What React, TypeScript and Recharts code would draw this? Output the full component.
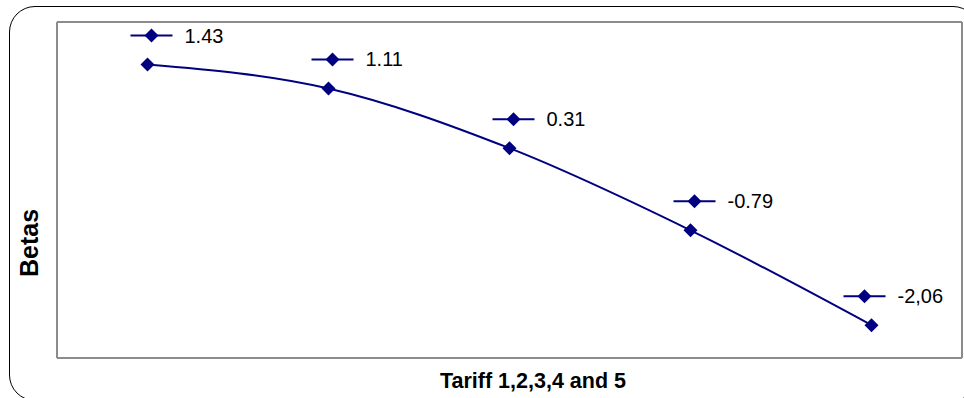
import { LineChart, XAxis, YAxis, Line } from "recharts";

const tariffs = ["Tariff 1", "Tariff 2", "Tariff 3", "Tariff 4", "Tariff 5"];
const betas = [1.43, 1.11, 0.31, -0.79, -2.06];
const betaLabels = ["1.43", "1.11", "0.31", "-0.79", "-2,06"];

const data = tariffs.map((name, i) => ({ name, beta: betas[i] }));

const NAVY = "#000080";
const FRAME = { stroke: "#8c8c8c", strokeWidth: 2 };
const FONT = "'Liberation Sans', Arial, Helvetica, sans-serif";

const diamond = (cx: number, cy: number, r: number) =>
  `M${cx},${cy - r}L${cx + r},${cy}L${cx},${cy + r}L${cx - r},${cy}Z`;

const renderDot = (props: any) => {
  const { cx, cy, index } = props;
  return <path key={`dot-${index}`} d={diamond(cx, cy, 7)} fill={NAVY} />;
};

// excel-style data label: legend key (line + diamond) followed by the value
const renderLabel = (props: any) => {
  const { x, y, index } = props;
  const text = betaLabels[index];
  const textW = text.length * 9.7;
  let kx = x + 4;
  const maxRight = 946;
  if (kx + 33 + textW > maxRight) kx = maxRight - 33 - textW;
  const ky = y - 29;
  return (
    <g key={`lbl-${index}`}>
      <line x1={kx - 21} y1={ky} x2={kx + 21} y2={ky} stroke={NAVY} strokeWidth={2} />
      <path d={diamond(kx, ky, 7)} fill={NAVY} />
      <text
        x={kx + 33}
        y={ky}
        dominantBaseline="central"
        fontSize={20}
        fontFamily={FONT}
        fill="#000"
      >
        {text}
      </text>
    </g>
  );
};

export default function App() {
  return (
    <div
      style={{
        position: "absolute",
        left: 0,
        top: 0,
        width: 964,
        height: 398,
        overflow: "hidden",
        background: "#fff",
      }}
    >
      <div
        style={{
          position: "absolute",
          left: 9,
          top: 6,
          width: 970,
          height: 395,
          border: "1.5px solid #000",
          borderRadius: 26,
          boxSizing: "border-box",
        }}
      />
      <LineChart
        width={964}
        height={398}
        data={data}
        margin={{ top: 21, right: 1, bottom: 39, left: 56 }}
      >
        <XAxis dataKey="name" scale="band" tick={false} tickLine={false} axisLine={FRAME} height={1} />
        <XAxis
          xAxisId="top"
          orientation="top"
          dataKey="name"
          scale="band"
          tick={false}
          tickLine={false}
          axisLine={FRAME}
          height={1}
        />
        <YAxis domain={[-2.5, 2]} tick={false} tickLine={false} axisLine={FRAME} width={1} />
        <YAxis
          yAxisId="right"
          orientation="right"
          domain={[-2.5, 2]}
          tick={false}
          tickLine={false}
          axisLine={FRAME}
          width={1}
        />
        <Line
          type="monotone"
          dataKey="beta"
          stroke={NAVY}
          strokeWidth={2}
          dot={renderDot}
          activeDot={false}
          label={renderLabel}
          isAnimationActive={false}
        />
      </LineChart>
      <svg
        width={964}
        height={398}
        style={{ position: "absolute", left: 0, top: 0, pointerEvents: "none" }}
      >
        <text
          x={533}
          y={388}
          textAnchor="middle"
          fontSize={21.5}
          fontWeight="bold"
          fontFamily={FONT}
          fill="#000"
        >
          Tariff 1,2,3,4 and 5
        </text>
        <text
          transform="translate(38,243) rotate(-90)"
          textAnchor="middle"
          fontSize={25}
          fontWeight="bold"
          fontFamily={FONT}
          fill="#000"
        >
          Betas
        </text>
      </svg>
    </div>
  );
}
